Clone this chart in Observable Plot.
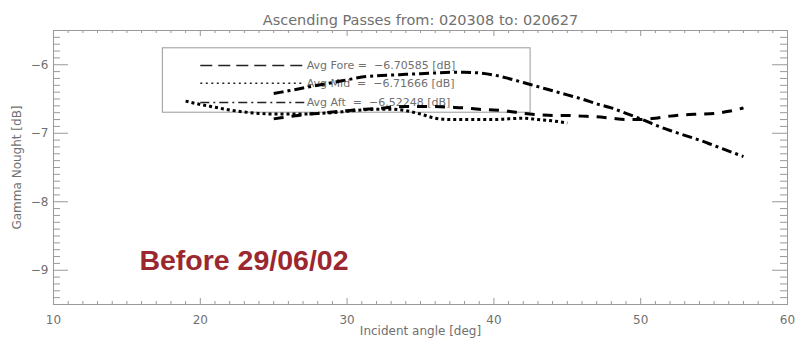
<!DOCTYPE html>
<html><head><meta charset="utf-8">
<script src="https://cdn.jsdelivr.net/npm/d3@7"></script>
<script src="https://cdn.jsdelivr.net/npm/@observablehq/plot@0.6"></script>
<style>body{margin:0;background:#fff} svg{display:block}</style>
</head><body><div id="chart"></div>
<script>
const title = "Ascending Passes from: 020308 to: 020627";
const xLabel = "Incident angle [deg]";
const yLabel = "Gamma Nought [dB]";
const xTicks = [10, 20, 30, 40, 50, 60];
const yTicks = [-9, -8, -7, -6];

const foreAngle = [25,26,27,28,29,30,31,32,33,34,35,36,37,38,39,40,41,42,43,44,45,46,47,48,49,50,51,52,53,54,55,56,57];
const foreValue = [-6.79,-6.76,-6.73,-6.71,-6.69,-6.67,-6.65,-6.64,-6.62,-6.61,-6.61,-6.61,-6.62,-6.63,-6.65,-6.66,-6.68,-6.71,-6.73,-6.74,-6.74,-6.75,-6.76,-6.78,-6.80,-6.80,-6.78,-6.75,-6.73,-6.72,-6.71,-6.68,-6.63];

const midAngle = [19,20,21,22,23,24,25,26,27,28,29,30,31,32,33,34,35,36,37,38,39,40,41,42,43,44,45];
const midValue = [-6.53,-6.58,-6.62,-6.66,-6.69,-6.71,-6.72,-6.72,-6.72,-6.71,-6.70,-6.68,-6.66,-6.65,-6.65,-6.67,-6.72,-6.78,-6.80,-6.80,-6.80,-6.80,-6.79,-6.78,-6.80,-6.82,-6.85];

const aftAngle = [25,26,27,28,29,30,31,32,33,34,35,36,37,38,39,40,41,42,43,44,45,46,47,48,49,50,51,52,53,54,55,56,57];
const aftValue = [-6.42,-6.38,-6.34,-6.30,-6.26,-6.22,-6.18,-6.16,-6.15,-6.14,-6.13,-6.12,-6.11,-6.11,-6.12,-6.15,-6.20,-6.26,-6.32,-6.38,-6.44,-6.50,-6.57,-6.63,-6.71,-6.79,-6.88,-6.96,-7.03,-7.10,-7.18,-7.26,-7.34];

const legendLabels = ["Avg Fore =\u00a0\u00a0\u22126.70585 [dB]", "Avg Mid\u00a0\u00a0=\u00a0\u00a0\u22126.71666 [dB]", "Avg Aft\u00a0\u00a0=\u00a0\u00a0\u22126.52248 [dB]"];
const legendRowY = [-6.01, -6.27, -6.55];
const legendSampleX = [20.0, 27.1];
const legendBoxX = [17.45, 42.5];
const legendBoxY = [-5.76, -6.70];

const annotation = "Before 29/06/02";
const annotationAt = [15.85, -8.99];

const W = 799, H = 344, mL = 53, mR = 12, mT = 30, mB = 40;
const iw = W - mL - mR, ih = H - mT - mB;
const grey = "#999";
const textGrey = "#707070";
const font = "DejaVu Sans, sans-serif";

const fore = foreAngle.map((x, i) => ({x, y: foreValue[i]}));
const mid = midAngle.map((x, i) => ({x, y: midValue[i]}));
const aft = aftAngle.map((x, i) => ({x, y: aftValue[i]}));

const dashes = ["10,8", "3,3", "10,4,3,4"];
const legendDashes = ["12,6", "2,3.5", "9,4,2,4"];

const minorX = d3.range(10, 60.001, 1).filter(v => !xTicks.includes(v));
const minorY = d3.range(-95, -54, 1).map(v => v / 10).filter(v => !yTicks.includes(v));

const legendMarks = legendLabels.flatMap((lab, i) => [
  Plot.line(legendSampleX.map(x => ({x, y: legendRowY[i]})), {x: "x", y: "y", stroke: "#222", strokeWidth: 1.5, strokeLinecap: "butt", strokeDasharray: legendDashes[i]}),
  Plot.text([lab], {x: () => legendSampleX[1] + 0.15, y: () => legendRowY[i], text: d => d, textAnchor: "start", fontSize: 11, fill: textGrey, fontFamily: font})
]);

const curve = (data, dash) => Plot.line(data, {x: "x", y: "y", stroke: "#000", strokeWidth: 3, strokeLinecap: "butt", strokeDasharray: dash, curve: "monotone-x"});

const chart = Plot.plot({
  width: W, height: H,
  marginLeft: mL, marginRight: mR, marginTop: mT, marginBottom: mB,
  style: {fontFamily: font, fontSize: "12px", color: textGrey, background: "#fff"},
  x: {domain: [10, 60]},
  y: {domain: [-9.5, -5.5]},
  marks: [
    Plot.frame({stroke: grey}),
    Plot.ruleY(yTicks, {y: d => d, insetRight: iw - 15, stroke: grey}),
    Plot.ruleY(yTicks, {y: d => d, insetLeft: iw - 15, stroke: grey}),
    Plot.ruleY(minorY, {y: d => d, insetRight: iw - 7, stroke: grey}),
    Plot.ruleY(minorY, {y: d => d, insetLeft: iw - 7, stroke: grey}),
    Plot.ruleX(xTicks, {x: d => d, insetTop: ih - 6, stroke: grey}),
    Plot.ruleX(xTicks, {x: d => d, insetBottom: ih - 6, stroke: grey}),
    Plot.ruleX(minorX, {x: d => d, insetTop: ih - 3, stroke: grey}),
    Plot.ruleX(minorX, {x: d => d, insetBottom: ih - 3, stroke: grey}),
    Plot.axisX({ticks: xTicks, tickSize: 0, tickPadding: 11, tickFormat: "d", label: xLabel, labelAnchor: "center", labelArrow: "none", labelOffset: 30}),
    Plot.axisY({ticks: yTicks, tickSize: 0, tickPadding: 5, tickFormat: "d", label: yLabel, labelAnchor: "center", labelArrow: "none", labelOffset: 41}),
    Plot.text([title], {frameAnchor: "top", text: d => d, lineAnchor: "bottom", dy: -6, fontSize: 14.5, fill: textGrey}),
    Plot.rect([0], {x1: () => legendBoxX[0], x2: () => legendBoxX[1], y1: () => legendBoxY[0], y2: () => legendBoxY[1], fill: "none", stroke: grey}),
    ...legendMarks,
    curve(fore, dashes[0]),
    curve(mid, dashes[1]),
    curve(aft, dashes[2]),
    Plot.text([annotation], {x: () => annotationAt[0], y: () => annotationAt[1], text: d => d, textAnchor: "start", lineAnchor: "bottom", fontSize: 28.5, fontWeight: "bold", fill: "#9b2830", fontFamily: "Liberation Sans, Arial, sans-serif"})
  ]
});
document.getElementById("chart").appendChild(chart);
</script>
</body></html>
